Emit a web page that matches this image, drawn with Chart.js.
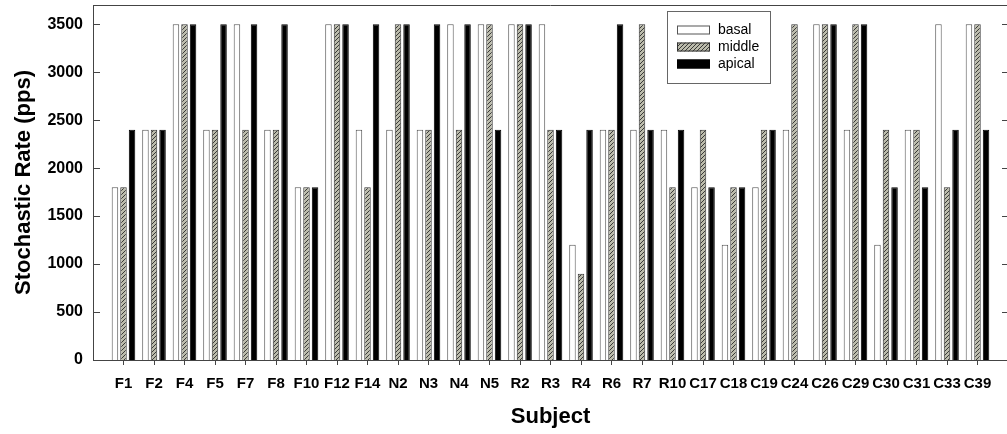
<!DOCTYPE html>
<html>
<head>
<meta charset="utf-8">
<script src="https://cdn.jsdelivr.net/npm/chart.js@4.4.1/dist/chart.umd.min.js"></script>
<style>
  html, body { margin: 0; padding: 0; overflow: hidden; background: #fff; }
</style>
</head>
<body>
<canvas id="chart" width="1010" height="434"></canvas>
<script>
// --- Data ---
const subjects = ['F1', 'F2', 'F4', 'F5', 'F7', 'F8', 'F10', 'F12', 'F14', 'N2', 'N3', 'N4', 'N5',
  'R2', 'R3', 'R4', 'R6', 'R7', 'R10', 'C17', 'C18', 'C19', 'C24', 'C26', 'C29', 'C30', 'C31', 'C33', 'C39'];
const basal  = [1800, 2400, 3500, 2400, 3500, 2400, 1800, 3500, 2400, 2400, 2400, 3500, 3500,
  3500, 3500, 1200, 2400, 2400, 2400, 1800, 1200, 1800, 2400, 3500, 2400, 1200, 2400, 3500, 3500];
const middle = [1800, 2400, 3500, 2400, 2400, 2400, 1800, 3500, 1800, 3500, 2400, 2400, 3500,
  3500, 2400, 900, 2400, 3500, 1800, 2400, 1800, 2400, 3500, 3500, 3500, 2400, 2400, 1800, 3500];
const apical = [2400, 2400, 3500, 3500, 3500, 3500, 1800, 3500, 3500, 3500, 3500, 3500, 2400,
  3500, 2400, 2400, 3500, 2400, 2400, 1800, 1800, 2400, null, 3500, 3500, 1800, 1800, 2400, 2400];
const yTicks = [0, 500, 1000, 1500, 2000, 2500, 3000, 3500];

const FONT = "'Liberation Sans', Arial, sans-serif";
const AXIS = '#444';

// --- Hatch pattern for "middle" ---
function makeHatch() {
  const c = document.createElement('canvas');
  c.width = 4; c.height = 4;
  const g = c.getContext('2d');
  g.fillStyle = '#bcbcac';
  g.fillRect(0, 0, 4, 4);
  g.strokeStyle = '#2a2a2a';
  g.lineWidth = 0.9;
  g.beginPath();
  g.moveTo(0, 4); g.lineTo(4, 0);
  g.moveTo(-1, 1); g.lineTo(1, -1);
  g.moveTo(3, 5); g.lineTo(5, 3);
  g.stroke();
  return g.createPattern(c, 'repeat');
}
const hatch = makeHatch();

const toPoints = arr => arr.map((v, i) => ({ x: i, y: v }));

// --- Frame, inward ticks, legend ---
const framePlugin = {
  id: 'frame',
  afterDraw(chart) {
    const { ctx, chartArea: a, scales: { y } } = chart;
    ctx.save();
    ctx.strokeStyle = AXIS;
    ctx.lineWidth = 1;
    ctx.beginPath();
    ctx.moveTo(a.left, a.top + 0.5); ctx.lineTo(a.right, a.top + 0.5);
    ctx.moveTo(a.right - 0.5, a.top); ctx.lineTo(a.right - 0.5, a.bottom);
    yTicks.forEach(v => {
      const py = Math.round(y.getPixelForValue(v)) + 0.5;
      ctx.moveTo(a.left, py); ctx.lineTo(a.left + 7, py);
      ctx.moveTo(a.right - 6, py); ctx.lineTo(a.right, py);
    });
    ctx.stroke();

    // legend box
    const lx = 667, ly = 11, lw = 103, lh = 72;
    ctx.fillStyle = '#fff';
    ctx.fillRect(lx, ly, lw, lh);
    ctx.strokeStyle = '#666';
    ctx.strokeRect(lx + 0.5, ly + 0.5, lw, lh);
    ctx.font = '14px ' + FONT;
    ctx.textBaseline = 'middle';
    chart.data.datasets.forEach((ds, i) => {
      const cy = 30 + i * 17;
      ctx.fillStyle = ds.backgroundColor;
      ctx.fillRect(677, cy - 4.5, 33, 9);
      ctx.strokeStyle = ds.borderColor;
      ctx.strokeRect(677.5, cy - 4, 32, 8);
      ctx.fillStyle = '#000';
      ctx.fillText(ds.label, 718, cy);
    });
    ctx.restore();
  }
};

new Chart(document.getElementById('chart'), {
  type: 'bar',
  data: {
    datasets: [
      { label: 'basal', data: toPoints(basal), backgroundColor: '#ffffff', borderColor: '#555', borderWidth: 1 },
      { label: 'middle', data: toPoints(middle), backgroundColor: hatch, borderColor: '#333', borderWidth: 1 },
      { label: 'apical', data: toPoints(apical), backgroundColor: '#000000', borderColor: '#000', borderWidth: 1 }
    ]
  },
  options: {
    responsive: false,
    animation: false,
    layout: { padding: { top: 5, right: 2, left: 0, bottom: 0 } },
    datasets: { bar: { categoryPercentage: 0.84, barPercentage: 0.76 } },
    plugins: { legend: { display: false }, tooltip: { enabled: false } },
    scales: {
      x: {
        type: 'linear',
        offset: false,
        min: -1,
        max: 29,
        afterBuildTicks: s => { s.ticks = subjects.map((_, i) => ({ value: i })); },
        afterFit: s => { s.height = 74; s.paddingLeft = 0; s.paddingRight = 0; },
        grid: { drawOnChartArea: false, drawTicks: true, tickLength: 5, color: AXIS, offset: false },
        border: { color: AXIS, width: 1 },
        ticks: {
          callback: v => subjects[v],
          autoSkip: false, maxRotation: 0,
          color: '#000', padding: 10,
          font: { family: FONT, size: 15, weight: 'bold' }
        },
        title: {
          display: true, text: 'Subject', color: '#000',
          font: { family: FONT, size: 22, weight: 'bold' },
          padding: { top: 0, bottom: 4 }
        }
      },
      y: {
        min: 0,
        max: 3700,
        afterBuildTicks: s => { s.ticks = yTicks.map(v => ({ value: v })); },
        afterFit: s => { s.width = 93; s.paddingTop = 0; s.paddingBottom = 0; },
        grid: { display: false, drawTicks: false },
        border: { color: AXIS, width: 1 },
        ticks: {
          callback: v => String(v),
          color: '#000', padding: 10,
          font: { family: FONT, size: 16, weight: 'bold' }
        },
        title: {
          display: true, text: 'Stochastic Rate (pps)', color: '#000',
          font: { family: FONT, size: 22, weight: 'bold' },
          padding: { top: 11, bottom: 0 }
        }
      }
    }
  },
  plugins: [framePlugin]
});
</script>
</body>
</html>
